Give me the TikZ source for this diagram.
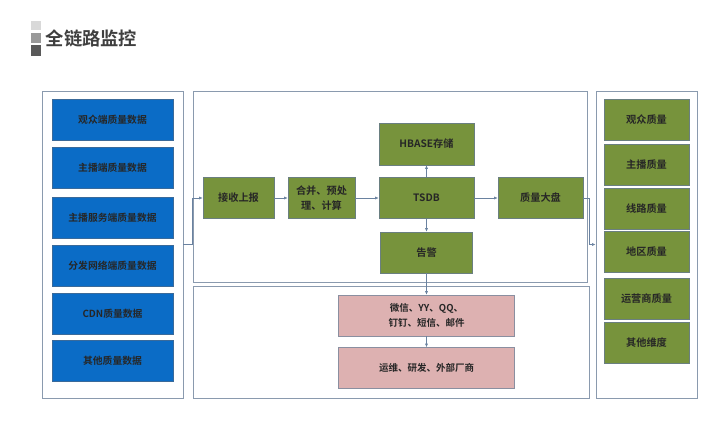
\documentclass[tikz,border=0pt]{standalone}
\usepackage{fontspec}
\setmainfont{Noto Sans CJK SC}[BoldFont={Noto Sans CJK SC Bold}]
\usetikzlibrary{arrows.meta}
\definecolor{bluefill}{HTML}{0B6CC6}
\definecolor{blueedge}{HTML}{3A6A9A}
\definecolor{greenfill}{HTML}{77933C}
\definecolor{greenedge}{HTML}{6A7F80}
\definecolor{pinkfill}{HTML}{DDB1B1}
\definecolor{pinkedge}{HTML}{8A8FA0}
\definecolor{paneledge}{HTML}{8A9AAE}
\definecolor{lineclr}{HTML}{6A82A0}
\definecolor{titleclr}{HTML}{3F3F3F}
\tikzset{
  panel/.style={draw=paneledge, line width=0.9pt, fill=white, inner sep=0pt},
  bbox/.style={draw=blueedge, fill=bluefill, line width=0.6pt, minimum width=121pt, minimum height=41pt, inner sep=0pt, font=\fontsize{9.8}{11}\selectfont\bfseries, text=black!85},
  gbox/.style={draw=greenedge, fill=greenfill, line width=0.6pt, minimum height=41pt, inner sep=0pt, font=\fontsize{10.2}{15.5}\selectfont\bfseries, text=black!85, align=center},
  pbox/.style={draw=pinkedge, fill=pinkfill, line width=0.6pt, minimum width=176pt, minimum height=41pt, inner sep=0pt, font=\fontsize{9.5}{15.5}\selectfont\bfseries, text=black!85, align=center},
  arr/.style={draw=lineclr, line width=0.6pt, -{Latex[length=3.5pt,width=3pt]}},
}
\begin{document}
\begin{tikzpicture}[x=1pt,y=-1pt]
\useasboundingbox[fill=white] (0,0) rectangle (723,421);
% title
\fill[black!15] (31,21) rectangle (41,30);
\fill[black!40] (31,33) rectangle (41,43);
\fill[black!65] (31,45) rectangle (41,56);
\node[anchor=west, inner sep=0pt, text=titleclr, font=\fontsize{18.3}{20}\selectfont\bfseries] (title) at (45.5,38.5) {全链路监控};
% panels
\node[panel, minimum width=141pt, minimum height=307pt] (lpanel) at (112.5,244.5) {};
\node[panel, minimum width=394pt, minimum height=191pt] (mpanel) at (390,186.5) {};
\node[panel, minimum width=396pt, minimum height=112pt] (bpanel) at (391,342) {};
\node[panel, minimum width=101pt, minimum height=307pt] (rpanel) at (646.5,244.5) {};
% left blue boxes
\node[bbox] (b1) at (112.5,119.5) {观众端质量数据};
\node[bbox] (b2) at (112.5,168) {主播端质量数据};
\node[bbox] (b3) at (112.5,217.5) {主播服务端质量数据};
\node[bbox] (b4) at (112.5,265.5) {分发网络端质量数据};
\node[bbox] (b5) at (112.5,313.5) {CDN质量数据};
\node[bbox] (b6) at (112.5,360.5) {其他质量数据};
% middle
\node[gbox, minimum width=71pt] (recv) at (238.5,198) {接收上报};
\node[gbox, minimum width=67pt] (merge) at (321.5,198) {合并、预处\\理、计算};
\node[gbox, minimum width=95pt] (tsdb) at (426.5,198) {TSDB};
\node[gbox, minimum width=95pt, minimum height=42pt] (hbase) at (426.5,144) {HBASE存储};
\node[gbox, minimum width=92pt] (alarm) at (426.5,252.5) {告警};
\node[gbox, minimum width=85pt] (board) at (540.5,198) {质量大盘};
\node[pbox] (notify) at (426.5,315.5) {微信、YY、QQ、\\钉钉、短信、邮件};
\node[pbox] (people) at (426.5,368) {运维、研发、外部厂商};
% right green boxes
\node[gbox, minimum width=85pt] (r1) at (646.5,120) {观众质量};
\node[gbox, minimum width=85pt] (r2) at (646.5,164.5) {主播质量};
\node[gbox, minimum width=85pt] (r3) at (646.5,208.5) {线路质量};
\node[gbox, minimum width=85pt] (r4) at (646.5,252) {地区质量};
\node[gbox, minimum width=85pt] (r5) at (646.5,298.5) {运营商质量};
\node[gbox, minimum width=85pt] (r6) at (646.5,342.5) {其他维度};
% connectors
\draw[arr] (lpanel.east) -- ++(8.5,0) |- (recv.west);
\draw[arr] (recv) -- (merge);
\draw[arr] (merge) -- (tsdb);
\draw[arr] (tsdb) -- (hbase);
\draw[arr] (tsdb) -- (alarm);
\draw[arr] (tsdb) -- (board);
\draw[arr] (board.east) -- ++(5.5,0) |- (rpanel.west);
\draw[arr] (alarm) -- (notify);
\draw[arr] (notify) -- (people);
\end{tikzpicture}
\end{document}
